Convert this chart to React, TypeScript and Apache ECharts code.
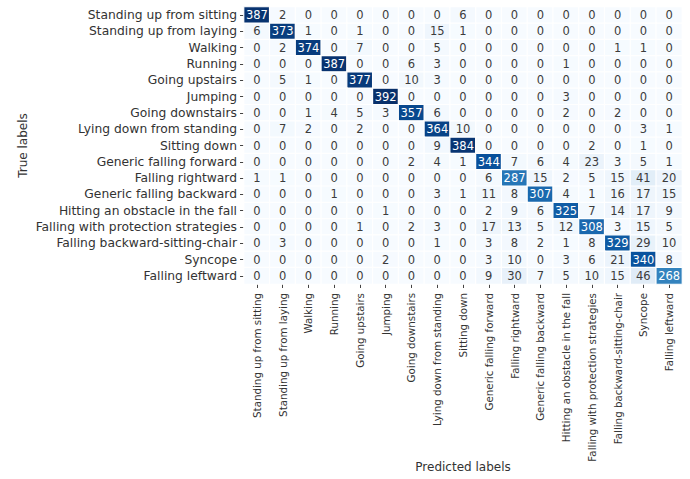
import React, { useEffect, useRef } from "react";
import * as echarts from "echarts";

const classes = [
  "Standing up from sitting",
  "Standing up from laying",
  "Walking",
  "Running",
  "Going upstairs",
  "Jumping",
  "Going downstairs",
  "Lying down from standing",
  "Sitting down",
  "Generic falling forward",
  "Falling rightward",
  "Generic falling backward",
  "Hitting an obstacle in the fall",
  "Falling with protection strategies",
  "Falling backward-sitting-chair",
  "Syncope",
  "Falling leftward",
];

// Rows: true label, columns: predicted label
const confusion: number[][] = [
  [387, 2, 0, 0, 0, 0, 0, 0, 6, 0, 0, 0, 0, 0, 0, 0, 0],
  [6, 373, 1, 0, 1, 0, 0, 15, 1, 0, 0, 0, 0, 0, 0, 0, 0],
  [0, 2, 374, 0, 7, 0, 0, 5, 0, 0, 0, 0, 0, 0, 1, 1, 0],
  [0, 0, 0, 387, 0, 0, 6, 3, 0, 0, 0, 0, 1, 0, 0, 0, 0],
  [0, 5, 1, 0, 377, 0, 10, 3, 0, 0, 0, 0, 0, 0, 0, 0, 0],
  [0, 0, 0, 0, 0, 392, 0, 0, 0, 0, 0, 0, 3, 0, 0, 0, 0],
  [0, 0, 1, 4, 5, 3, 357, 6, 0, 0, 0, 0, 2, 0, 2, 0, 0],
  [0, 7, 2, 0, 2, 0, 0, 364, 10, 0, 0, 0, 0, 0, 0, 3, 1],
  [0, 0, 0, 0, 0, 0, 0, 9, 384, 0, 0, 0, 0, 2, 0, 1, 0],
  [0, 0, 0, 0, 0, 0, 2, 4, 1, 344, 7, 6, 4, 23, 3, 5, 1],
  [1, 1, 0, 0, 0, 0, 0, 0, 0, 6, 287, 15, 2, 5, 15, 41, 20],
  [0, 0, 0, 1, 0, 0, 0, 3, 1, 11, 8, 307, 4, 1, 16, 17, 15],
  [0, 0, 0, 0, 0, 1, 0, 0, 0, 2, 9, 6, 325, 7, 14, 17, 9],
  [0, 0, 0, 0, 1, 0, 2, 3, 0, 17, 13, 5, 12, 308, 3, 15, 5],
  [0, 3, 0, 0, 0, 0, 0, 1, 0, 3, 8, 2, 1, 8, 329, 29, 10],
  [0, 0, 0, 0, 0, 2, 0, 0, 0, 3, 10, 0, 3, 6, 21, 340, 8],
  [0, 0, 0, 0, 0, 0, 0, 0, 0, 9, 30, 7, 5, 10, 15, 46, 268],
];

const blues = ["#f7fbff", "#deebf7", "#c6dbef", "#9ecae1", "#6baed6", "#4292c6", "#2171b5", "#08519c", "#08306b"];
const FONT = "DejaVu Sans";

export default function App() {
  const ref = useRef<HTMLDivElement>(null);

  useEffect(() => {
    if (!ref.current) return;
    const chart = echarts.init(ref.current, null, { renderer: "svg" });
    const maxVal = Math.max(...confusion.map((r) => Math.max(...r)));

    const data: any[] = [];
    confusion.forEach((row, i) => {
      row.forEach((v, j) => {
        data.push({
          value: [j, i, v],
          label: { color: v > maxVal * 0.5 ? "#ffffff" : "#3c3c3c" },
        });
      });
    });

    chart.setOption({
      animation: false,
      backgroundColor: "#ffffff",
      grid: { left: 244, top: 7, width: 438, height: 277, outerBoundsMode: "none", containLabel: false },
      xAxis: {
        type: "category",
        data: classes,
        name: "Predicted labels",
        nameLocation: "middle",
        nameGap: 177,
        nameMoveOverlap: false,
        nameTextStyle: { fontFamily: FONT, fontSize: 12, color: "#333" },
        axisLine: { show: false },
        axisTick: { show: true, alignWithLabel: true, length: 4, lineStyle: { color: "#444" } },
        axisLabel: { rotate: 90, interval: 0, fontFamily: FONT, fontSize: 10.3, color: "#333", margin: 9 },
        splitLine: { show: false },
      },
      yAxis: {
        type: "category",
        data: classes,
        inverse: true,
        name: "True labels",
        nameLocation: "middle",
        nameGap: 215,
        nameMoveOverlap: false,
        nameRotate: 90,
        nameTextStyle: { fontFamily: FONT, fontSize: 12, color: "#333" },
        axisLine: { show: false },
        axisTick: { show: true, alignWithLabel: true, length: 4, lineStyle: { color: "#444" } },
        axisLabel: { interval: 0, fontFamily: FONT, fontSize: 12.3, color: "#333", margin: 7 },
        splitLine: { show: false },
      },
      visualMap: {
        show: false,
        min: 0,
        max: maxVal,
        dimension: 2,
        inRange: { color: blues },
      },
      series: [
        {
          type: "heatmap",
          data,
          itemStyle: { borderColor: "#ffffff", borderWidth: 1.2 },
          label: { show: true, fontFamily: FONT, fontSize: 11.5, formatter: (p: any) => String(p.value[2]) },
        },
      ],
    });

    return () => chart.dispose();
  }, []);

  return <div ref={ref} style={{ position: "fixed", left: 0, top: 0, width: 690, height: 479 }} />;
}
